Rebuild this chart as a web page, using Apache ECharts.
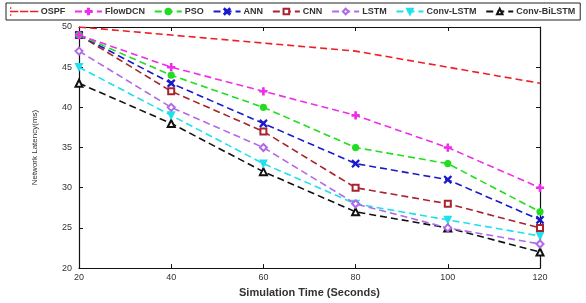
<!DOCTYPE html>
<html><head><meta charset="utf-8">
<script src="https://cdn.jsdelivr.net/npm/echarts@6/dist/echarts.min.js"></script>
<style>html,body{margin:0;padding:0;background:#fff}#c{width:586px;height:303px}</style>
</head><body><div id="c"></div>
<script>
const times = [20, 40, 60, 80, 100, 120];
const ospf = [50, 49, 48, 47, 45, 43];
const flowdcn = [49, 45, 42, 39, 35, 30];
const pso = [49, 44, 40, 35, 33, 27];
const ann = [49, 43, 38, 33, 31, 26];
const cnn = [49, 42, 37, 30, 28, 25];
const lstm = [47, 40, 35, 28, 25, 23];
const convLstm = [45, 39, 33, 28, 26, 24];
const convBiLstm = [43, 38, 32, 27, 25, 22];
const seriesNames = ['OSPF','FlowDCN','PSO','ANN','CNN','LSTM','Conv-LSTM','Conv-BiLSTM'];
const seriesValues = [ospf, flowdcn, pso, ann, cnn, lstm, convLstm, convBiLstm];

const colors = ['#f01e23','#ee2ee8','#22dd22','#1a1acc','#a8232d','#b06ae8','#20e0ee','#111111'];
const plus = 'path://M4,0H6V4H10V6H6V10H4V6H0V4H4Z';
const cross = 'path://M1,0L5,3.6L9,0L10,1L6.4,5L10,9L9,10L5,6.4L1,10L0,9L3.6,5L0,1Z';
const triDown = 'path://M0,0L10,0L5,9Z';
const symbols = ['none', plus, 'circle', cross, 'emptyRect', 'emptyDiamond', triDown, 'emptyTriangle'];
const sizes = [0, 7, 6, 7, 6, 7, 7, 7];
const dashIcon = 'path://M0,0H0.02V0.02H0ZM0,6.98H0.02V7H0ZM0,3.4H7V3.6H0ZM10,3.4H17V3.6H10ZM20,3.4H27V3.6H20Z';

const chart = echarts.init(document.getElementById('c'));
const ticksInside = {show:true, inside:true, length:4, lineStyle:{color:'#111'}};
chart.setOption({
  animation:false,
  legend:{
    left:6, top:3,
    data:seriesNames.map((n,i)=> i===0 ? {name:n, icon:dashIcon, itemStyle:{color:colors[0], borderColor:colors[0], borderWidth:1.3}} : {name:n}),
    borderColor:'#222', borderWidth:1,
    padding:[4,5,4,4],
    itemWidth:27, itemHeight:7, itemGap:8.8,
    textStyle:{fontFamily:'Liberation Sans, Arial', fontSize:9, fontWeight:'bold', color:'#333', padding:[0,0,0,-2]}
  },
  grid:{left:79, right:46, top:27, bottom:31, show:false},
  xAxis:[{
    type:'value', min:20, max:120, interval:20,
    name:'Simulation Time (Seconds)', nameLocation:'middle', nameGap:16,
    nameTextStyle:{fontFamily:'Liberation Sans, Arial', fontSize:11, fontWeight:'bold', color:'#333'},
    axisLine:{show:true, lineStyle:{color:'#111', width:1.2}},
    axisTick:ticksInside, splitLine:{show:false},
    axisLabel:{fontFamily:'Liberation Sans, Arial', fontSize:9, color:'#333', margin:5}
  },{
    type:'value', min:20, max:120, interval:20, position:'top',
    axisLine:{show:true, lineStyle:{color:'#111', width:1.2}},
    axisTick:ticksInside, axisLabel:{show:false}, splitLine:{show:false}
  }],
  yAxis:[{
    type:'value', min:20, max:50, interval:5,
    name:'Network Latency(ms)', nameLocation:'middle', nameGap:40, nameRotate:90,
    nameTextStyle:{fontFamily:'Liberation Sans, Arial', fontSize:8, color:'#333'},
    axisLine:{show:true, lineStyle:{color:'#111', width:1.2}},
    axisTick:ticksInside, splitLine:{show:false},
    axisLabel:{fontFamily:'Liberation Sans, Arial', fontSize:9, color:'#333', margin:7}
  },{
    type:'value', min:20, max:50, interval:5, position:'right',
    axisLine:{show:true, lineStyle:{color:'#111', width:1.2}},
    axisTick:ticksInside, axisLabel:{show:false}, splitLine:{show:false}
  }],
  series: seriesNames.map((n,i)=>({
    name:n, type:'line',
    data: times.map((t,j)=>[t, seriesValues[i][j]]),
    symbol:symbols[i], symbolSize:sizes[i], showSymbol:i!==0,
    itemStyle:{color:colors[i], borderColor:colors[i], borderWidth:1.2},
    lineStyle:{color:colors[i], width:1.6, type:[7,4]},
    z: 10-i
  }))
});
</script></body></html>
